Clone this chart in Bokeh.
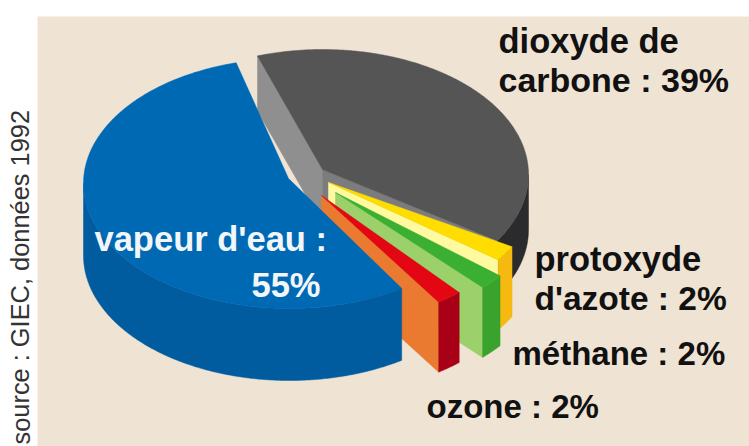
import math
from bokeh.plotting import figure
from bokeh.models import Range1d
from bokeh.core.properties import value
from bokeh.embed import file_html
from bokeh.resources import INLINE

# --- data ---
gases = ["dioxyde de carbone", "protoxyde d'azote", "méthane", "ozone", "vapeur d'eau"]
shares = [39, 2, 2, 2, 55]
source_note = "source : GIEC, données 1992"

# --- drawing styles (painter's order, back to front) ---
centres = [(322, 174), (331, 186), (339, 197), (323, 198), (289, 183)]
apexes = [(322, 169), (328, 182), (335, 192), (321, 195), (288, 178)]
first_angle = [-32, -36, -46, -56, 105]
depths = [55, 70, 70, 70, 72]
top_colors = ["#555555", "#FFDD00", "#3AAF32", "#E30613", "#0069B4"]
side_colors = ["#2B2B2D", "#F6B90F", "#3AA32E", "#A80016", "#005C9F"]
face_colors = ["#7C7C7E", "#FFFAA0", "#9BD06A", "#EA7A2F", None]
back_face_colors = ["#8F8F8F", None, None, None, None]
RX, RY = 206, 125

BG = "#EFE3D3"
labels = [
    ("dioxyde de", 498, 40, "#111111", "34.5px"),
    ("carbone : 39%", 498, 79, "#111111", "34px"),
    ("protoxyde", 534, 258, "#111111", "34.5px"),
    ("d'azote : 2%", 534, 298, "#111111", "33.5px"),
    ("méthane : 2%", 512, 353, "#111111", "33px"),
    ("ozone : 2%", 426, 406, "#111111", "33px"),
    ("vapeur d'eau :", 94, 238, "#F2F6F9", "34.5px"),
    ("55%", 251, 284, "#F2F6F9", "34.5px"),
]

p = figure(width=749, height=446, x_range=Range1d(0, 749), y_range=Range1d(446, 0),
           output_backend="svg", toolbar_location=None, min_border=0,
           background_fill_color="white", border_fill_color="white", outline_line_color=None)
p.axis.visible = False
p.grid.visible = False

p.quad(left=[37], right=[749], top=[16], bottom=[446], fill_color=BG, line_color=None)


def pt(c, t, dy=0):
    r = math.radians(t)
    return c[0] + RX * math.cos(r), c[1] - RY * math.sin(r) + dy


def arc(c, t0, t1, dy=0):
    n = max(2, int(abs(t1 - t0)) * 2)
    return [pt(c, t0 + (t1 - t0) * i / n, dy) for i in range(n + 1)]


def poly(points, color):
    p.patch([q[0] for q in points], [q[1] for q in points], fill_color=color, line_color=color, line_width=0.5)


for i, share in enumerate(shares):
    c = centres[i]
    apex = apexes[i]
    a0 = first_angle[i]
    a1 = a0 + share * 3.6
    d = depths[i]
    if back_face_colors[i]:
        pe = pt(c, a1)
        poly([apex, pe, (pe[0], pe[1] + d), (apex[0], apex[1] + d)], back_face_colors[i])
    if face_colors[i]:
        ps = pt(c, a0)
        poly([apex, ps, (ps[0], ps[1] + d), (apex[0], apex[1] + d)], face_colors[i])
    # outer wall: only the part facing the viewer
    if a0 > 0:
        s0, s1 = 180, a1
    else:
        s0, s1 = a0, min(a1, 0)
    poly(arc(c, s0, s1) + arc(c, s1, s0, d), side_colors[i])
    poly([apex] + arc(c, a0, a1), top_colors[i])

for text, x, y, color, size in labels:
    p.text(x=[x], y=[y], text=[text], text_color=color, text_font=value("Liberation Sans"),
           text_font_style="bold", text_font_size=size, text_baseline="alphabetic", text_align="left")

p.text(x=[20], y=[444], text=[source_note], angle=[math.pi / 2], text_color="#333333",
       text_font=value("Liberation Sans"), text_font_size="25.4px", text_baseline="alphabetic", text_align="left")

open("out.html", "w").write(file_html(p, INLINE))
